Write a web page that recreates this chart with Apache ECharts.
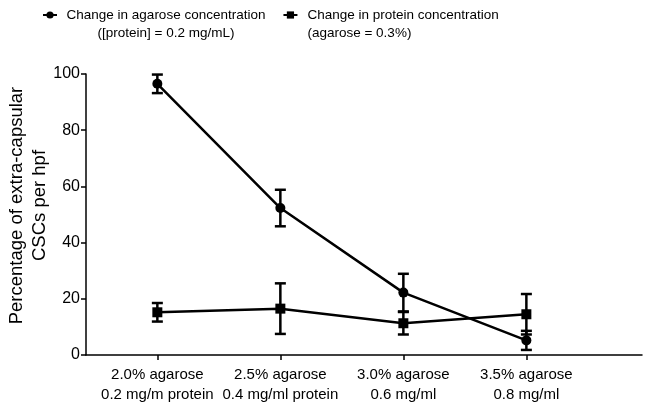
<!DOCTYPE html>
<html><head><meta charset="utf-8">
<script src="https://cdn.jsdelivr.net/npm/echarts@6/dist/echarts.min.js"></script>
<style>html,body{margin:0;padding:0;background:#fff}#c{width:649px;height:412px}</style>
</head><body><div id="c"></div>
<script>
const categories = ['2.0% agarose\n0.2 mg/m protein', '2.5% agarose\n0.4 mg/ml protein', '3.0% agarose\n0.6 mg/ml', '3.5% agarose\n0.8 mg/ml'];
const agaroseMean = [96.5, 52.3, 22.2, 5.2];
const agaroseErr = [3.3, 6.5, 6.7, 3.4];
const proteinMean = [15.2, 16.5, 11.3, 14.5];
const proteinErr = [3.3, 9.0, 4.0, 7.2];
const yTicks = [0, 20, 40, 60, 80, 100];
const seriesNames = ['Change in agarose concentration', 'Change in protein concentration'];
const seriesSub = ['([protein] = 0.2 mg/mL)', '(agarose = 0.3%)'];

const FONT = 'Liberation Sans, Arial, sans-serif';
const idx = categories.map((_, i) => i);
function pts(m) { return m.map((v, i) => [i, v]); }
function errs(m, e) { return m.map((v, i) => [i, v - e[i], v + e[i]]); }

function errRender(params, api) {
  const x = api.value(0), lo = api.value(1), hi = api.value(2);
  const a = api.coord([x, lo]), b = api.coord([x, hi]);
  const w = 5.5;
  const st = { stroke: '#000', lineWidth: 2.5 };
  return { type: 'group', children: [
    { type: 'line', shape: { x1: a[0], y1: a[1], x2: b[0], y2: b[1] }, style: st },
    { type: 'line', shape: { x1: a[0] - w, y1: a[1], x2: a[0] + w, y2: a[1] }, style: st },
    { type: 'line', shape: { x1: b[0] - w, y1: b[1], x2: b[0] + w, y2: b[1] }, style: st }
  ]};
}

const chart = echarts.init(document.getElementById('c'), null, { renderer: 'canvas' });
chart.setOption({
  animation: false,
  textStyle: { fontFamily: FONT, color: '#000' },
  legend: {
    left: 42, top: -12, padding: 0, itemGap: 17, itemWidth: 14, itemHeight: 9,
    data: seriesNames,
    textStyle: { fontFamily: FONT, fontSize: 13.5, color: '#000', lineHeight: 18, padding: [18, 0, 0, 5],
      rich: {
        a: { fontFamily: FONT, fontSize: 13.5, lineHeight: 18, width: 198, align: 'center', color: '#000' },
        b: { fontFamily: FONT, fontSize: 13.5, lineHeight: 18, color: '#000' }
      } },
    formatter: function (n) {
      const i = seriesNames.indexOf(n);
      if (i === 0) return '{a|' + n + '}\n{a|' + seriesSub[0] + '}';
      return '{b|' + n + '}\n{b|' + seriesSub[1] + '}';
    }
  },
  grid: { left: 86, right: 7, top: 74, bottom: 57, containLabel: false, outerBoundsMode: 'none' },
  xAxis: {
    type: 'value', min: -0.58, max: 3.94,
    splitLine: { show: false },
    axisLine: { show: true, onZero: false, lineStyle: { color: '#000', width: 1.5 } },
    axisTick: { show: true, customValues: idx, length: 5, lineStyle: { color: '#000', width: 1.5 } },
    axisLabel: { customValues: idx, margin: 10, fontSize: 15, lineHeight: 20, color: '#000', fontFamily: FONT,
      formatter: v => categories[Math.round(v)] }
  },
  yAxis: {
    type: 'value', min: 0, max: 100, interval: 20,
    name: 'Percentage of extra-capsular\nCSCs per hpf', nameLocation: 'middle', nameRotate: 90, nameGap: 35,
    nameMoveOverlap: false,
    nameTextStyle: { fontSize: 18.5, lineHeight: 23, color: '#000', fontFamily: FONT, align: 'center', padding: [0, 0, 0, 18] },
    splitLine: { show: false },
    axisLine: { show: true, onZero: false, lineStyle: { color: '#000', width: 1.5 } },
    axisTick: { show: true, length: 5, lineStyle: { color: '#000', width: 1.5 } },
    axisLabel: { margin: 6, fontSize: 16, color: '#000', fontFamily: FONT, formatter: v => yTicks.includes(v) ? String(v) : '' }
  },
  series: [
    { name: seriesNames[0], type: 'line', data: pts(agaroseMean), symbol: 'circle', symbolSize: 10,
      lineStyle: { color: '#000', width: 2.5 }, itemStyle: { color: '#000' }, z: 3 },
    { name: seriesNames[1], type: 'line', data: pts(proteinMean), symbol: 'rect', symbolSize: 10,
      lineStyle: { color: '#000', width: 2.5 }, itemStyle: { color: '#000' }, z: 3 },
    { type: 'custom', renderItem: errRender, data: errs(agaroseMean, agaroseErr), z: 4, encode: { x: 0, y: [1, 2] } },
    { type: 'custom', renderItem: errRender, data: errs(proteinMean, proteinErr), z: 4, encode: { x: 0, y: [1, 2] } }
  ]
});
</script></body></html>
